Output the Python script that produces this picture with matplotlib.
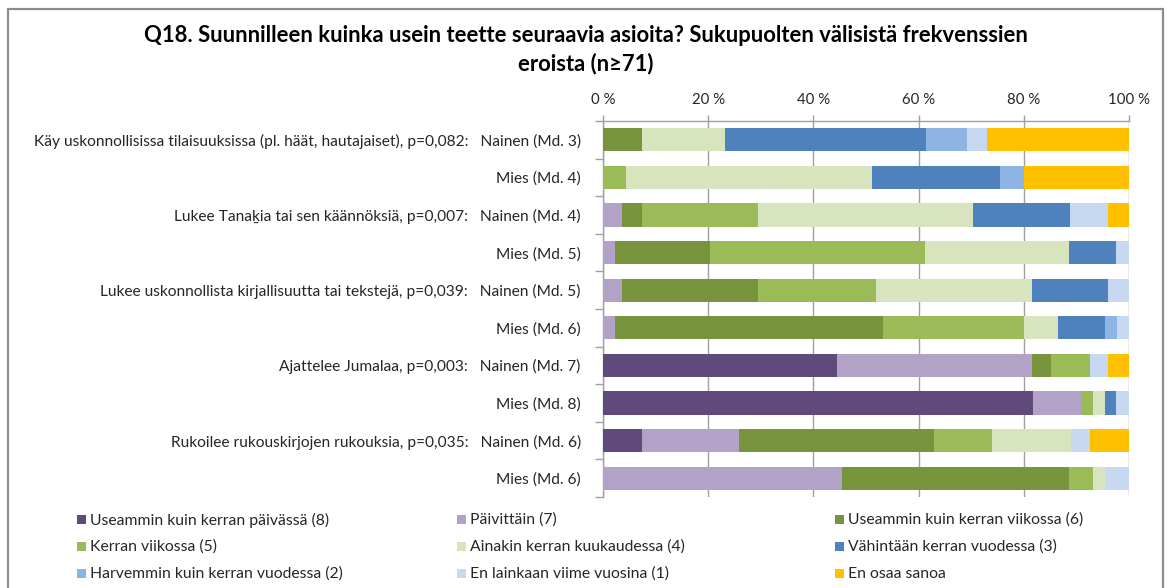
import matplotlib
matplotlib.use("Agg")
import matplotlib.pyplot as plt
from matplotlib.patches import Rectangle
import numpy as np

plt.rcParams['font.family'] = ['Lato', 'DejaVu Sans']

row_labels = [
    "Käy uskonnollisissa tilaisuuksissa (pl. häät, hautajaiset), p=0,082:   Nainen (Md. 3)",
    "Mies (Md. 4)",
    "Lukee Tanaḵia tai sen käännöksiä, p=0,007:   Nainen (Md. 4)",
    "Mies (Md. 5)",
    "Lukee uskonnollista kirjallisuutta tai tekstejä, p=0,039:   Nainen (Md. 5)",
    "Mies (Md. 6)",
    "Ajattelee Jumalaa, p=0,003:   Nainen (Md. 7)",
    "Mies (Md. 8)",
    "Rukoilee rukouskirjojen rukouksia, p=0,035:   Nainen (Md. 6)",
    "Mies (Md. 6)",
]

series_names = [
    "Useammin kuin kerran päivässä (8)",
    "Päivittäin (7)",
    "Useammin kuin kerran viikossa (6)",
    "Kerran viikossa (5)",
    "Ainakin kerran kuukaudessa (4)",
    "Vähintään kerran vuodessa (3)",
    "Harvemmin kuin kerran vuodessa (2)",
    "En lainkaan viime vuosina (1)",
    "En osaa sanoa",
]

colors = ["#604A7B", "#B3A2C7", "#77933C", "#9BBB59", "#D7E4BD",
          "#4F81BD", "#8EB4E3", "#C6D9F1", "#FFC000"]

# values per series (percent), one per row in row_labels order
s8 = [0.0, 0.0, 0.0, 0.0, 0.0, 0.0, 44.5, 81.7, 7.5, 0.0]
s7 = [0.0, 0.0, 3.6, 2.2, 3.6, 2.2, 37.0, 9.1, 18.3, 45.4]
s6 = [7.5, 0.0, 3.8, 18.1, 25.9, 51.0, 3.6, 0.0, 37.1, 43.1]
s5 = [0.0, 4.3, 22.1, 41.0, 22.4, 26.8, 7.4, 2.3, 11.1, 4.6]
s4 = [15.6, 46.8, 40.8, 27.2, 29.6, 6.5, 0.0, 2.4, 14.9, 2.4]
s3 = [38.4, 24.3, 18.5, 9.1, 14.6, 9.0, 0.0, 2.1, 0.0, 0.0]
s2 = [7.7, 4.6, 0.0, 0.0, 0.0, 2.3, 0.0, 0.0, 0.0, 0.0]
s1 = [3.8, 0.0, 7.3, 2.4, 3.9, 2.2, 3.6, 2.4, 3.6, 4.5]
s0 = [27.0, 20.0, 3.9, 0.0, 0.0, 0.0, 3.9, 0.0, 7.5, 0.0]
series = [s8, s7, s6, s5, s4, s3, s2, s1, s0]

xticks = [0, 20, 40, 60, 80, 100]
xtick_labels = ["0 %", "20 %", "40 %", "60 %", "80 %", "100 %"]

W, H = 1168, 588
fig = plt.figure(figsize=(W / 100, H / 100), dpi=100)
fig.patch.set_facecolor("white")

# chart border
fig.add_artist(Rectangle((8 / W, -0.05), (1163 - 8) / W, 1 - 9 / H + 0.05,
                         transform=fig.transFigure, fill=False,
                         edgecolor="#8C8C8C", linewidth=1.6))

ax_left, ax_right, ax_top, ax_bottom = 603, 1129, 121, 497
ax = fig.add_axes([ax_left / W, 1 - ax_bottom / H,
                   (ax_right - ax_left) / W, (ax_bottom - ax_top) / H])

n = len(row_labels)
y = np.arange(n)
left = np.zeros(n)
for vals, col in zip(series, colors):
    vals = np.array(vals)
    ax.barh(y, vals, left=left, height=0.62, color=col, linewidth=0, zorder=3)
    left += vals

ax.set_xlim(0, 100)
ax.set_ylim(n - 0.5, -0.5)
ax.xaxis.tick_top()
ax.set_xticks(xticks)
ax.set_xticklabels(xtick_labels, fontsize=10.8, color="#262626")
ax.tick_params(axis="x", length=4, width=1, color="#A0A0A0", pad=6)
ax.grid(axis="x", color="#A0A0A0", linewidth=1, zorder=0)

ax.set_yticks(y)
ax.set_yticklabels(row_labels, fontsize=11.2, color="#262626")
ax.tick_params(axis="y", length=0, pad=16)
# boundary ticks on the left
ax.set_yticks(np.arange(n + 1) - 0.5, minor=True)
ax.tick_params(axis="y", which="minor", length=6, width=1, color="#A0A0A0")

for s in ["right", "bottom"]:
    ax.spines[s].set_visible(False)
for s in ["top", "left"]:
    ax.spines[s].set_color("#A0A0A0")
    ax.spines[s].set_linewidth(1)

fig.text(586 / W, 1 - 36 / H,
         "Q18. Suunnilleen kuinka usein teette seuraavia asioita? Sukupuolten välisistä frekvenssien",
         ha="center", va="center", fontsize=15.8, fontweight="bold", color="#000000")
fig.text(586 / W, 1 - 64 / H, "eroista (n≥71)",
         ha="center", va="center", fontsize=15.8, fontweight="bold", color="#000000")

# legend
leg_cols = [77, 457, 835]
leg_rows = [520, 547, 574]
for i, (name, col) in enumerate(zip(series_names, colors)):
    r, c = divmod(i, 3)
    x0, y0 = leg_cols[c], leg_rows[r]
    fig.add_artist(Rectangle((x0 / W, (H - y0 - 4) / H), 9 / W, 9 / H,
                             transform=fig.transFigure, facecolor=col,
                             edgecolor="none"))
    fig.text((x0 + 13) / W, 1 - y0 / H, name, ha="left", va="center",
             fontsize=11.3, color="#262626")

fig.savefig("out.png", dpi=100, facecolor="white")
